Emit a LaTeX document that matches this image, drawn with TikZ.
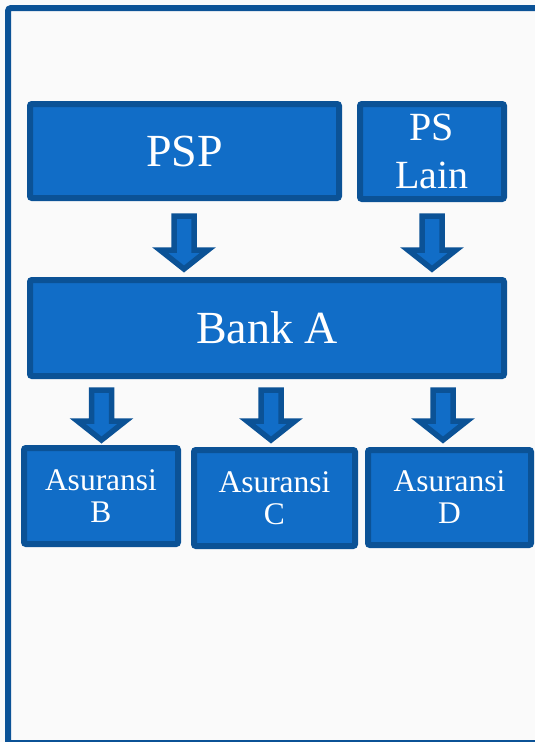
\documentclass[tikz,border=0pt]{standalone}
\usepackage{fontspec}
\setmainfont{Liberation Serif}
\definecolor{boxfill}{RGB}{17,109,199}
\definecolor{boxline}{RGB}{11,82,150}
\definecolor{bg}{RGB}{250,250,250}
\tikzset{
  blk/.style={draw=boxline, fill=boxfill, line width=6pt, rounded corners=2pt, text=white, align=center, inner sep=0pt},
  barr/.style={draw=boxline, fill=boxfill, line width=5.5pt, line join=miter},
}
\newcommand\blockarrow[3]{% centre x, outer top y, outer tip y (y measured downward)
  \draw[barr] ({#1-10},{-(#2+3)}) -- ({#1+10},{-(#2+3)}) -- ({#1+10},{-(#3-23)}) -- ({#1+24},{-(#3-23)})
    -- (#1,{-(#3-4)}) -- ({#1-24},{-(#3-23)}) -- ({#1-10},{-(#3-23)}) -- cycle;}
\begin{document}
\begin{tikzpicture}[x=1pt,y=1pt]
\fill[bg] (0,0) rectangle (535,-742);
\useasboundingbox (0,0) rectangle (535,-742);
% frame
\draw[boxline, line width=6pt, rounded corners=3pt] (8,-742) -- (8,-8) -- (535,-8);
\draw[boxline, line width=2pt] (11,-741) -- (535,-741);
% boxes
\node[blk, minimum width=309pt, minimum height=94pt, font=\fontsize{46}{50}\selectfont] (psp) at (184.5,-151) {PSP};
\node[blk, minimum width=144pt, minimum height=95pt, font=\fontsize{40}{48}\selectfont] (psl) at (432,-151.5) {PS\\Lain};
\node[blk, minimum width=474pt, minimum height=96pt, font=\fontsize{46}{50}\selectfont] (bank) at (267,-328) {Bank A};
\node[blk, minimum width=154pt, minimum height=96pt, font=\fontsize{31.5}{32}\selectfont] (asb) at (101,-496) {Asuransi\\B};
\node[blk, minimum width=161pt, minimum height=96pt, font=\fontsize{31.5}{32}\selectfont] (asc) at (274.5,-498) {Asuransi\\C};
\node[blk, minimum width=163pt, minimum height=95pt, font=\fontsize{31.5}{32}\selectfont] (asd) at (449.5,-497.5) {Asuransi\\D};
% block arrows
\blockarrow{184}{213}{273}
\blockarrow{432}{213}{273}
\blockarrow{101.5}{387}{444}
\blockarrow{271}{387}{444}
\blockarrow{443}{387}{444}
\end{tikzpicture}
\end{document}
